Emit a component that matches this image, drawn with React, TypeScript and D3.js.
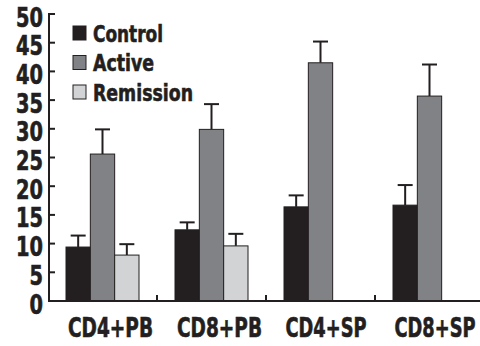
import React, { useLayoutEffect, useRef, useState } from "react";
import * as d3 from "d3";

const categories = ["CD4+PB", "CD8+PB", "CD4+SP", "CD8+SP"];
const categoryWidths = [85, 85, 81, 81];
const seriesNames = ["Control", "Active", "Remission"];
const legendWidths = [70, 61, 100];
const control = [9.4, 12.4, 16.4, 16.7];
const controlErr = [2.0, 1.3, 2.0, 3.5];
const active = [25.6, 29.9, 41.5, 35.7];
const activeErr = [4.3, 4.4, 3.7, 5.5];
const remission = [8.0, 9.6, null, null];
const remissionErr = [1.9, 2.1, null, null];
const yTicks = [0, 5, 10, 15, 20, 25, 30, 35, 40, 45, 50];

const colors = ["#231f20", "#808285", "#d1d3d4"];
const ink = "#231f20";
const font = "'Liberation Sans Narrow', 'Arial Narrow', 'DejaVu Sans Condensed', sans-serif";

// heavy condensed lettering
const textStyle = {
  fontFamily: font,
  fontWeight: "bold" as const,
  fill: ink,
  stroke: ink,
  strokeWidth: 0.6,
};

// Text squeezed horizontally to a fixed width; anchor is "start", "middle" or "end".
function NarrowText(props: {
  x: number;
  y: number;
  width: number;
  size: number;
  anchor: "start" | "middle" | "end";
  children: string;
}) {
  const ref = useRef<SVGTextElement>(null);
  const [sx, setSx] = useState(1);
  useLayoutEffect(() => {
    if (ref.current) {
      const natural = ref.current.getComputedTextLength();
      if (natural > 0) setSx(props.width / natural);
    }
  }, [props.width, props.children]);
  return (
    <text
      ref={ref}
      transform={`translate(${props.x},${props.y}) scale(${sx},1)`}
      textAnchor={props.anchor}
      fontSize={props.size}
      style={textStyle}
    >
      {props.children}
    </text>
  );
}

export default function App() {
  const width = 480;
  const height = 346;
  const axisX = 49;
  const y = d3.scaleLinear().domain([0, 50]).range([301, 14]);
  const x0 = d3.scaleBand().domain(categories).range([48, 484]);
  const x1 = d3.scaleBand().domain(seriesNames).range([18, 91]);

  const values = [control, active, remission];
  const errs = [controlErr, activeErr, remissionErr];

  const bars: any[] = [];
  categories.forEach((c, ci) => {
    seriesNames.forEach((s, si) => {
      const v = values[si][ci];
      if (v == null) return;
      const e = errs[si][ci] ?? 0;
      const bx = (x0(c) ?? 0) + (x1(s) ?? 0);
      const bw = x1.bandwidth();
      const cx = bx + bw / 2;
      bars.push(
        <g key={c + s}>
          <line x1={cx} x2={cx} y1={y(v)} y2={y(v + e)} stroke={ink} strokeWidth={2} />
          <line x1={cx - 7.5} x2={cx + 7.5} y1={y(v + e)} y2={y(v + e)} stroke={ink} strokeWidth={2} />
          <rect x={bx} y={y(v)} width={bw} height={y(0) - y(v)} fill={colors[si]} stroke={ink} strokeWidth={1} />
        </g>
      );
    });
  });

  const legendRows = [33, 62.5, 92];

  return (
    <svg width={width} height={height} style={{ position: "absolute", left: 0, top: 0, background: "#fff" }}>
      {bars}
      {/* y axis */}
      <line x1={axisX} x2={axisX} y1={y(50) - 1} y2={y(0) + 1} stroke={ink} strokeWidth={2} />
      {yTicks.map((t) => (
        <g key={t}>
          <line x1={axisX} x2={axisX + 6} y1={y(t)} y2={y(t)} stroke={ink} strokeWidth={2} />
          <NarrowText x={43} y={y(t) + 12.5} width={String(t).length * 13.5} size={26} anchor="end">
            {String(t)}
          </NarrowText>
        </g>
      ))}
      {/* x axis */}
      <line x1={axisX - 1} x2={484} y1={y(0)} y2={y(0)} stroke={ink} strokeWidth={2} />
      {categories.slice(1).map((c) => (
        <line key={c} x1={x0(c)} x2={x0(c)} y1={y(0)} y2={y(0) - 6} stroke={ink} strokeWidth={2} />
      ))}
      {categories.map((c, i) => (
        <NarrowText
          key={c}
          x={(x0(c) ?? 0) + x0.bandwidth() / 2 + (i < 2 ? 8 : 5.5)}
          y={337}
          width={categoryWidths[i]}
          size={26}
          anchor="middle"
        >
          {c}
        </NarrowText>
      ))}
      {/* legend */}
      {seriesNames.map((s, i) => (
        <g key={s}>
          <rect x={73} y={legendRows[i] - 7} width={13} height={14} fill={colors[i]} stroke={ink} strokeWidth={1} />
          <NarrowText x={93} y={legendRows[i] + 8.5} width={legendWidths[i]} size={23} anchor="start">
            {s}
          </NarrowText>
        </g>
      ))}
    </svg>
  );
}
